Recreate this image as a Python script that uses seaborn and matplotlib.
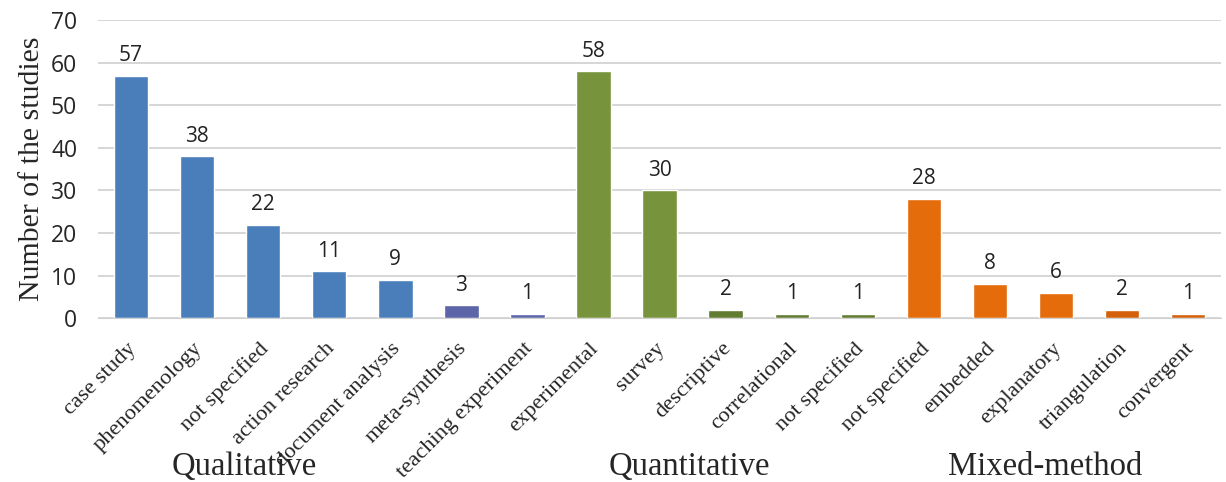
import matplotlib
matplotlib.use("Agg")
import matplotlib.pyplot as plt
import matplotlib.transforms as mtransforms
import seaborn as sns
import pandas as pd

groups = ["Qualitative"] * 7 + ["Quantitative"] * 5 + ["Mixed-method"] * 5
methods = ["case study", "phenomenology", "not specified", "action research",
           "document analysis", "meta-synthesis", "teaching experiment",
           "experimental", "survey", "descriptive", "correlational", "not specified",
           "not specified", "embedded", "explanatory", "triangulation", "convergent"]
counts = [57, 38, 22, 11, 9, 3, 1,
          58, 30, 2, 1, 1,
          28, 8, 6, 2, 1]
group_names = ["Qualitative", "Quantitative", "Mixed-method"]

bar_colors = ["#4a7ebb"] * 5 + ["#5b65a8"] * 2 + \
             ["#77933c"] * 2 + ["#627c32"] * 3 + \
             ["#e46c0a"] * 3 + ["#d4600c"] * 2

sns.set_style("white")
plt.rcParams["font.family"] = ["DejaVu Sans"]

df = pd.DataFrame({
    "key": [f"{g}|{m}|{i}" for i, (g, m) in enumerate(zip(groups, methods))],
    "method": methods,
    "group": groups,
    "count": counts,
})

fig = plt.figure(figsize=(12.26, 4.82), dpi=100)
ax = fig.add_axes([0.080, 0.340, 0.916, 0.618])

sns.barplot(data=df, x="key", y="count", hue="key",
            palette=dict(zip(df["key"], bar_colors)),
            width=0.52, legend=False, ax=ax, saturation=1)

for cont in ax.containers:
    ax.bar_label(cont, padding=7, fontsize=15, family="Open Sans", color="#222222")

ax.set_ylim(0, 70)
ax.set_yticks(range(0, 71, 10))
ax.set_yticklabels([str(v) for v in range(0, 71, 10)], family="Open Sans", fontsize=16.5)
ax.yaxis.grid(True, color="#d0d0d0", linewidth=1.2)
ax.set_axisbelow(True)
for s in ["top", "right", "left"]:
    ax.spines[s].set_visible(False)
ax.spines["bottom"].set_color("#d0d0d0")
ax.tick_params(axis="y", length=0, pad=15)

ax.set_xticks(range(len(methods)))
ax.set_xticklabels(methods, rotation=45, ha="right", rotation_mode="anchor",
                   family="Liberation Serif", fontsize=16.2)
ax.tick_params(axis="x", length=0, pad=15)
offset = mtransforms.ScaledTranslation(-3 / 72, 0, fig.dpi_scale_trans)
for lbl in ax.get_xticklabels():
    lbl.set_transform(lbl.get_transform() + offset)
ax.set_xlabel("")
ax.set_ylabel("Number of the studies", family="Liberation Serif", fontsize=21.5, labelpad=4)
ax.set_xlim(-0.5, len(methods) - 0.5)

group_x = [1.71, 8.45, 13.83]
for gx, name in zip(group_x, group_names):
    ax.text(gx, -0.527, name, transform=ax.get_xaxis_transform(),
            ha="center", va="baseline", family="Liberation Serif", fontsize=23.5)

fig.savefig("out.png", dpi=100)
